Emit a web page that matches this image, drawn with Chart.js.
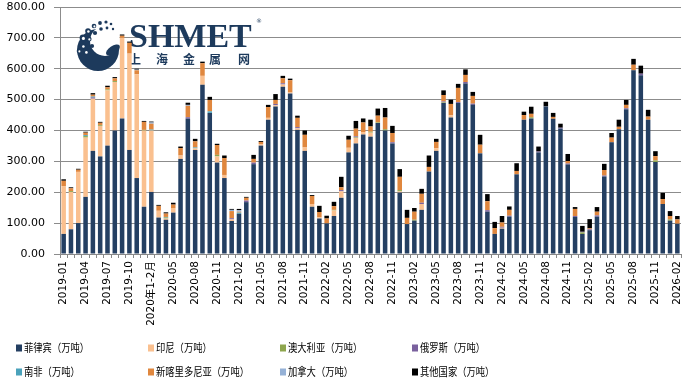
<!DOCTYPE html>
<html>
<head>
<meta charset="utf-8">
<script src="https://cdn.jsdelivr.net/npm/chart.js@4.4.1/dist/chart.umd.min.js"></script>
<style>
html,body{margin:0;padding:0;background:#fff;}
#wrap{width:694px;height:386px;position:relative;}
</style>
</head>
<body>
<div id="wrap"><canvas id="c" width="694" height="386"></canvas></div>
<script>
const categories = [
"2019-01","2019-02","2019-03","2019-04","2019-05","2019-06","2019-07","2019-08","2019-09","2019-10","2019-11","2019-12",
"2020年1-2月","2020-03","2020-04","2020-05","2020-06","2020-07","2020-08","2020-09","2020-10","2020-11","2020-12",
"2021-01","2021-02","2021-03","2021-04","2021-05","2021-06","2021-07","2021-08","2021-09","2021-10","2021-11","2021-12",
"2022-01","2022-02","2022-03","2022-04","2022-05","2022-06","2022-07","2022-08","2022-09","2022-10","2022-11","2022-12",
"2023-01","2023-02","2023-03","2023-04","2023-05","2023-06","2023-07","2023-08","2023-09","2023-10","2023-11","2023-12",
"2024-01","2024-02","2024-03","2024-04","2024-05","2024-06","2024-07","2024-08","2024-09","2024-10","2024-11","2024-12",
"2025-01","2025-02","2025-03","2025-04","2025-05","2025-06","2025-07","2025-08","2025-09","2025-10","2025-11","2025-12",
"2026-01","2026-02"];

const philippines = [65,80,100,185,334,316,351,400,439,337,246,153,
201,118,111,134,308,438,337,548,457,296,246,
107,130,168,291,351,435,478,542,520,402,334,153,
115,99,123,182,329,358,387,380,424,400,358,199,
97,108,143,267,334,489,442,489,552,483,326,137,
65,82,121,258,435,439,329,478,438,406,290,120,
65,77,121,251,362,404,469,595,579,435,298,162,
108,98];
const indonesia = [155,121,166,192,169,99,179,157,261,312,336,247,
199,22,4,15,11,0,5,29,0,20,10,
5,0,0,0,5,6,4,7,3,5,11,9,
4,0,18,21,15,18,8,13,0,0,0,4,
0,0,19,0,8,0,7,0,0,0,0,0,
0,3,0,0,0,0,0,0,0,0,0,0,
0,0,0,0,0,0,0,0,0,0,0,0,
0,0];
const australia = [0,3,0,5,0,3,3,3,0,0,0,2,
0,0,3,0,0,0,0,0,0,5,0,
0,0,0,0,0,0,0,0,0,0,0,0,
0,0,2,0,0,2,0,3,2,4,0,4,
0,3,0,0,0,2,0,0,0,0,0,0,
0,0,0,0,0,4,0,0,0,0,0,0,
5,0,0,0,0,0,0,0,0,0,5,0,
4,0];
const russia = [0,0,0,0,4,0,0,0,0,0,0,0,
0,0,0,0,0,5,0,0,0,0,0,
4,0,5,5,0,0,4,4,0,4,0,0,
0,0,0,4,0,3,0,0,0,0,4,0,
0,0,4,0,0,3,0,3,5,4,0,5,
0,3,3,0,0,0,3,0,0,3,3,3,
2,3,4,3,0,0,3,0,5,0,0,0,
0,0];
const southAfrica = [0,0,0,3,3,0,0,0,0,0,0,0,
3,0,2,0,0,0,3,0,5,0,0,
0,4,0,0,0,0,0,0,0,0,0,0,
0,0,0,0,0,0,0,0,0,0,0,0,
0,0,0,0,0,0,0,0,0,0,0,0,
0,0,0,0,0,0,0,0,0,0,0,0,
0,0,0,0,0,0,0,0,0,0,0,0,
0,0];
const newCaledonia = [17,9,7,8,6,7,7,9,7,35,13,26,
19,16,11,11,24,37,20,41,37,32,55,
23,3,9,12,7,35,13,16,40,30,41,26,
17,16,12,9,26,25,31,17,22,38,30,43,
20,26,29,15,21,21,37,46,23,25,28,29,
19,14,19,11,15,11,0,0,6,0,8,23,
0,3,12,18,15,8,11,18,0,10,14,16,
11,14];
const canada = [0,0,0,0,0,0,0,0,0,0,2,0,
4,0,0,0,0,3,0,0,0,0,0,
4,5,0,0,0,0,0,0,0,0,0,0,
0,0,0,0,0,0,0,0,0,0,0,0,
0,0,0,0,0,0,0,0,0,0,0,0,
0,0,0,0,0,0,0,0,0,0,0,0,
0,0,0,0,0,0,0,0,0,0,0,0,
0,0];
const others = [5,3,3,3,5,3,5,4,4,4,3,3,
3,3,4,6,5,7,8,5,10,4,8,
3,4,3,13,3,7,19,8,5,7,14,3,
20,9,14,34,13,25,13,22,23,31,23,25,
26,12,16,37,10,15,14,13,18,13,32,23,
20,21,11,25,11,23,16,15,13,13,23,6,
19,30,15,20,15,23,16,19,26,22,16,20,
16,11];

const seriesNames = ["菲律宾（万吨）","印尼（万吨）","澳大利亚（万吨）","俄罗斯（万吨）","南非（万吨）","新喀里多尼亚（万吨）","加拿大（万吨）","其他国家（万吨）"];
const seriesColors = ["#243f62","#fac08f","#8ea64e","#7a619e","#4aa2bb","#e0873e","#95b1d6","#000000"];
const seriesData = [philippines,indonesia,australia,russia,southAfrica,newCaledonia,canada,others];
const yTicks = [0,100,200,300,400,500,600,700,800];

const datasets = seriesData.map((d,i)=>({
  label: seriesNames[i], data: d, backgroundColor: seriesColors[i],
  borderWidth: 0, barPercentage: 0.62, categoryPercentage: 1.0, stack: 's'
}));

const logoPlugin = {
  id: 'logo',
  beforeDatasetsDraw(chart){
    const ctx = chart.ctx;
    ctx.save();
    const navy = '#1d3a5c';
    ctx.fillStyle = navy;
    ctx.beginPath();
    ctx.arc(98, 50, 21, 0, Math.PI*2);
    ctx.fill();
    ctx.fillStyle = '#ffffff';
    ctx.beginPath();
    ctx.arc(105, 41, 15, 0, Math.PI*2);
    ctx.fill();
    ctx.fillStyle = navy;
    ctx.beginPath();
    ctx.ellipse(113, 50, 8, 4, -0.6, 0, Math.PI*2);
    ctx.fill();
    const dots = [[83,38,3.4],[88,31,2.8],[94,26,2.3],[100,23,1.9],[106,22,1.6],[111,24,1.3],[83,46,2.8],[89,39,2.5],[95,33,2.1],[101,29,1.8],[107,28,1.4],[79,51,2.3],[86,52,2.9],[92,46,2.1],[113,29,1.2]];
    dots.forEach(([x,y,r])=>{
      ctx.fillStyle = navy;
      ctx.beginPath(); ctx.arc(x,y,r,0,Math.PI*2); ctx.fill();
      if (r>2.2){ ctx.fillStyle='#fff'; ctx.beginPath(); ctx.arc(x+0.4,y+0.4,r*0.45,0,Math.PI*2); ctx.fill(); }
    });
    ctx.fillStyle = navy;
    ctx.font = 'bold 34px "Liberation Serif", "DejaVu Serif", serif';
    ctx.textBaseline = 'alphabetic';
    ctx.textAlign = 'left';
    ctx.fillText('SHMET', 129, 47, 124);
    ctx.font = '6px "DejaVu Sans", sans-serif';
    ctx.fillText('®', 256, 23);
    ctx.font = 'bold 12px "Noto Sans CJK SC", sans-serif';
    ctx.textAlign = 'center';
    ctx.textBaseline = 'middle';
    const cn = ['上','海','金','属','网'];
    const cx = [135,162,189,215,244];
    cn.forEach((c,i)=>ctx.fillText(c, cx[i], 59));
    ctx.restore();
  }
};

const legendPlugin = {
  id: 'gridLegend',
  afterDraw(chart){
    const ctx = chart.ctx;
    ctx.save();
    const colX = [16,148,280,412];
    const rowY = [348,372];
    ctx.font = '11px "Noto Sans CJK SC", sans-serif';
    ctx.textBaseline = 'middle';
    ctx.textAlign = 'left';
    seriesNames.forEach((name,i)=>{
      const x = colX[i%4], y = rowY[Math.floor(i/4)];
      ctx.fillStyle = seriesColors[i];
      ctx.fillRect(x, y-3.5, 6, 7);
      ctx.fillStyle = '#000';
      ctx.fillText(name, x+8, y, name.length*9.3);
    });
    ctx.restore();
  }
};

new Chart(document.getElementById('c'), {
  type: 'bar',
  data: { labels: categories, datasets },
  options: {
    responsive: false,
    animation: false,
    layout: { padding: { left: 0, right: 13, top: 7, bottom: 0 } },
    plugins: { legend: { display: false }, tooltip: { enabled: false } },
    scales: {
      x: {
        stacked: true,
        offset: true,
        grid: { display: true, drawOnChartArea: false, drawTicks: true, tickLength: 4, color: '#888', offset: true },
        border: { color: '#888' },
        ticks: {
          autoSkip: false, minRotation: 90, maxRotation: 90, padding: 3,
          color: '#000', font: { family: '"DejaVu Sans", "Noto Sans CJK SC", sans-serif', size: 10.5 },
          callback: (v,i)=> i%3===0 ? categories[i] : ''
        },
        afterFit: (s)=>{ s.height = 132; s.paddingTop = 0; s.paddingBottom = 0; }
      },
      y: {
        stacked: true, min: 0, max: 800,
        grid: { color: '#8c8c8c', tickLength: 6 },
        border: { color: '#8c8c8c' },
        ticks: {
          stepSize: 100, padding: 9, color: '#000',
          font: { family: '"DejaVu Sans", sans-serif', size: 11 },
          callback: (v)=> yTicks.includes(v) ? v.toFixed(2) : ''
        },
        afterFit: (s)=>{ s.width = 60; s.paddingTop = 0; s.paddingBottom = 0; }
      }
    }
  },
  plugins: [logoPlugin, legendPlugin]
});
</script>
</body>
</html>
